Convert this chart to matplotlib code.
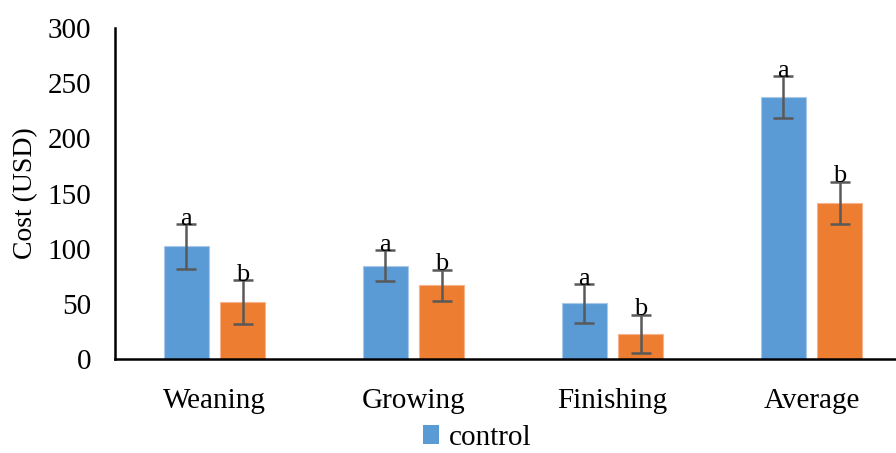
import matplotlib
matplotlib.use("Agg")
import matplotlib.pyplot as plt
from matplotlib.patches import Patch
import numpy as np

categories = ["Weaning", "Growing", "Finishing", "Average"]
control = [102, 84.5, 50.5, 237.5]
control_err = [20, 14, 17.5, 19]
treatment = [51.5, 67, 22.5, 141.5]
treatment_err = [20, 14, 17.5, 19]
control_letters = ["a", "a", "a", "a"]
treatment_letters = ["b", "b", "b", "b"]
yticks = [0, 50, 100, 150, 200, 250, 300]

plt.rcParams['font.family'] = ['Liberation Serif', 'DejaVu Serif']

fig = plt.figure(figsize=(8.96, 4.53), dpi=100)
ax = fig.add_axes([115/896, 94/453, (896-115)/896, (359-28)/453])

x = np.arange(len(categories))
w = 0.226
off = 0.143
blue = "#5B9BD5"
orange = "#ED7D31"
ecol = "#595959"

ax.bar(x - off, control, w, color=blue, edgecolor="#a9c8ea", linewidth=0.8, zorder=2)
ax.bar(x + off, treatment, w, color=orange, edgecolor="#f5b48e", linewidth=0.8, zorder=2)
ax.errorbar(x - off, control, yerr=control_err, fmt='none', ecolor=ecol, elinewidth=1.8, capsize=7, capthick=1.8, zorder=3)
ax.errorbar(x + off, treatment, yerr=treatment_err, fmt='none', ecolor=ecol, elinewidth=1.8, capsize=7, capthick=1.8, zorder=3)

for i in range(len(categories)):
    ax.text(x[i] - off, control[i] + control_err[i] - 0.5, control_letters[i], ha='center', va='baseline', fontsize=19, zorder=4)
    ax.text(x[i] + off, treatment[i] + treatment_err[i] - 0.5, treatment_letters[i], ha='center', va='baseline', fontsize=19, zorder=4)

ax.set_xlim(-0.5, -0.5 + (896-115)/199)
ax.set_ylim(0, 300)
ax.set_yticks(yticks)
ax.set_yticklabels([str(t) for t in yticks], fontsize=21)
ax.set_xticks(x)
ax.set_xticklabels(categories, fontsize=21)
ax.tick_params(axis='both', length=0)
ax.tick_params(axis='x', pad=21)
ax.tick_params(axis='y', pad=17)
ax.set_ylabel("Cost (USD)", fontsize=20)
ax.yaxis.set_label_coords((38 - 115) / 781, 0.5)

for s in ['top', 'right']:
    ax.spines[s].set_visible(False)
ax.spines['left'].set_linewidth(1.8)
ax.spines['bottom'].set_linewidth(1.8)

handles = [Patch(facecolor=blue, edgecolor='none', label='control')]
fig.legend(handles=handles, loc='center left', bbox_to_anchor=(423/896, 15/453), frameon=False,
           fontsize=21, handlelength=0.55, handleheight=0.6, handletextpad=0.35, borderpad=0, borderaxespad=0)

fig.savefig("out.png", dpi=100)
